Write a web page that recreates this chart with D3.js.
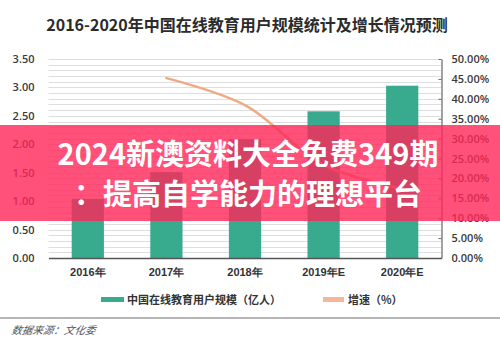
<!DOCTYPE html>
<html>
<head>
<meta charset="utf-8">
<script src="https://cdn.jsdelivr.net/npm/d3@7"></script>
<style>
  html, body { margin: 0; padding: 0; background: #fff; }
  svg { display: block; font-family: "Noto Sans CJK SC", "Noto Sans", sans-serif; }
</style>
</head>
<body>
<svg id="chart" width="500" height="346"></svg>
<script>
// Chart data
const years = ["2016年", "2017年", "2018年", "2019年E", "2020年E"];
const users = [1.04, 1.51, 2.09, 2.58, 3.03];          // 亿人
const growth = [null, 45.2, 38.4, 23.4, 17.4];          // %
const leftTicks = [0, 0.5, 1, 1.5, 2, 2.5, 3, 3.5];
const rightTicks = [0, 5, 10, 15, 20, 25, 30, 35, 40, 45, 50];
const title = "2016-2020年中国在线教育用户规模统计及增长情况预测";
const legendLabels = ["中国在线教育用户规模（亿人）", "增速（%）"];
const source = "数据来源：文化委";
const bannerLines = ["2024新澳资料大全免费349期", "：提高自学能力的理想平台"];

const svg = d3.select("#chart");
const plot = { left: 48.5, right: 441.5, top: 59, bottom: 258 };

const x = d3.scaleBand().domain(years).range([plot.left, plot.right]).paddingInner(0.59).paddingOuter(0.295);
const yL = d3.scaleLinear().domain([0, 3.5]).range([plot.bottom, plot.top]);
const yR = d3.scaleLinear().domain([0, 50]).range([plot.bottom, plot.top]);

// Title
svg.append("text").attr("x", 247).attr("y", 31).attr("text-anchor", "middle")
  .attr("font-size", 16).attr("font-weight", "bold").attr("fill", "#2b2b2b").text(title);

// Fine horizontal grid, every 0.1
const gridVals = d3.range(1, 36).map(d => d / 10);
svg.append("g").selectAll("line").data(gridVals).join("line")
  .attr("x1", plot.left).attr("x2", plot.right)
  .attr("y1", d => Math.round(yL(d)) + 0.5).attr("y2", d => Math.round(yL(d)) + 0.5)
  .attr("stroke", "#dedede").attr("stroke-width", 1);

// Bars
svg.append("g").selectAll("rect").data(users).join("rect")
  .attr("x", (d, i) => x(years[i])).attr("width", x.bandwidth())
  .attr("y", d => yL(d)).attr("height", d => yL(0) - yL(d))
  .attr("fill", "#38aa8e");

// Growth line
const line = d3.line()
  .defined(d => d.v != null)
  .x(d => x(d.k) + x.bandwidth() / 2)
  .y(d => yR(d.v))
  .curve(d3.curveCatmullRom.alpha(0.5));
svg.append("path")
  .datum(years.map((k, i) => ({ k, v: growth[i] })).filter(d => d.v != null))
  .attr("d", line).attr("fill", "none")
  .attr("stroke", "#eeaa82").attr("stroke-width", 2.5).attr("stroke-linecap", "round");

// Left axis
const axL = svg.append("g").attr("transform", `translate(${plot.left},0)`)
  .call(d3.axisLeft(yL).tickValues(leftTicks).tickFormat(d3.format(".2f")).tickSize(0).tickPadding(14));
axL.select(".domain").remove();
axL.selectAll("text").attr("font-size", 11).attr("font-weight", "600").attr("fill", "#3a3a3a")
  .attr("font-family", "'Open Sans', sans-serif");

// Right axis
const axR = svg.append("g").attr("transform", `translate(${plot.right},0)`)
  .call(d3.axisRight(yR).tickValues(rightTicks).tickFormat(d => d3.format(".2f")(d) + "%").tickSizeInner(-3).tickSizeOuter(0).tickPadding(10));
axR.select(".domain").attr("stroke", "#666").attr("stroke-width", 1.2);
axR.selectAll(".tick line").attr("stroke", "#666");
axR.selectAll("text").attr("font-size", 11).attr("font-weight", "600").attr("fill", "#3a3a3a")
  .attr("font-family", "'Open Sans', sans-serif");

// Bottom axis
const axB = svg.append("g").attr("transform", `translate(0,${plot.bottom})`)
  .call(d3.axisBottom(x).tickSize(0).tickPadding(10));
axB.select(".domain").attr("stroke", "#555").attr("stroke-width", 1.5);
axB.selectAll("text").attr("font-size", 11).attr("font-weight", "bold").attr("fill", "#333");

// Legend
const lg = svg.append("g");
lg.append("rect").attr("x", 101).attr("y", 297).attr("width", 23).attr("height", 5).attr("fill", "#38aa8e");
lg.append("text").attr("x", 127).attr("y", 303.5).attr("font-size", 11).attr("font-weight", "bold").attr("fill", "#333").text(legendLabels[0]);
lg.append("rect").attr("x", 323).attr("y", 297).attr("width", 21).attr("height", 5).attr("fill", "#f2b899");
lg.append("text").attr("x", 348).attr("y", 303.5).attr("font-size", 11).attr("font-weight", "bold").attr("fill", "#333").text(legendLabels[1]);

// Separator and source note
svg.append("rect").attr("x", 0).attr("y", 317).attr("width", 500).attr("height", 2).attr("fill", "#b5b5b5");
svg.append("text").attr("x", 12).attr("y", 334).attr("font-size", 10.5).attr("font-style", "italic")
  .attr("fill", "#555").attr("transform", "skewX(-10) translate(58,0)").text(source);

// Banner overlay
svg.append("rect").attr("x", 0).attr("y", 125).attr("width", 500).attr("height", 96)
  .attr("fill", "rgb(255,38,88)").attr("fill-opacity", 0.8);
svg.append("g").selectAll("text").data(bannerLines).join("text")
  .attr("x", 248).attr("y", (d, i) => 165 + i * 40).attr("text-anchor", "middle")
  .attr("font-size", 29).attr("font-weight", "bold").attr("fill", "#fff").text(d => d);
</script>
</body>
</html>
